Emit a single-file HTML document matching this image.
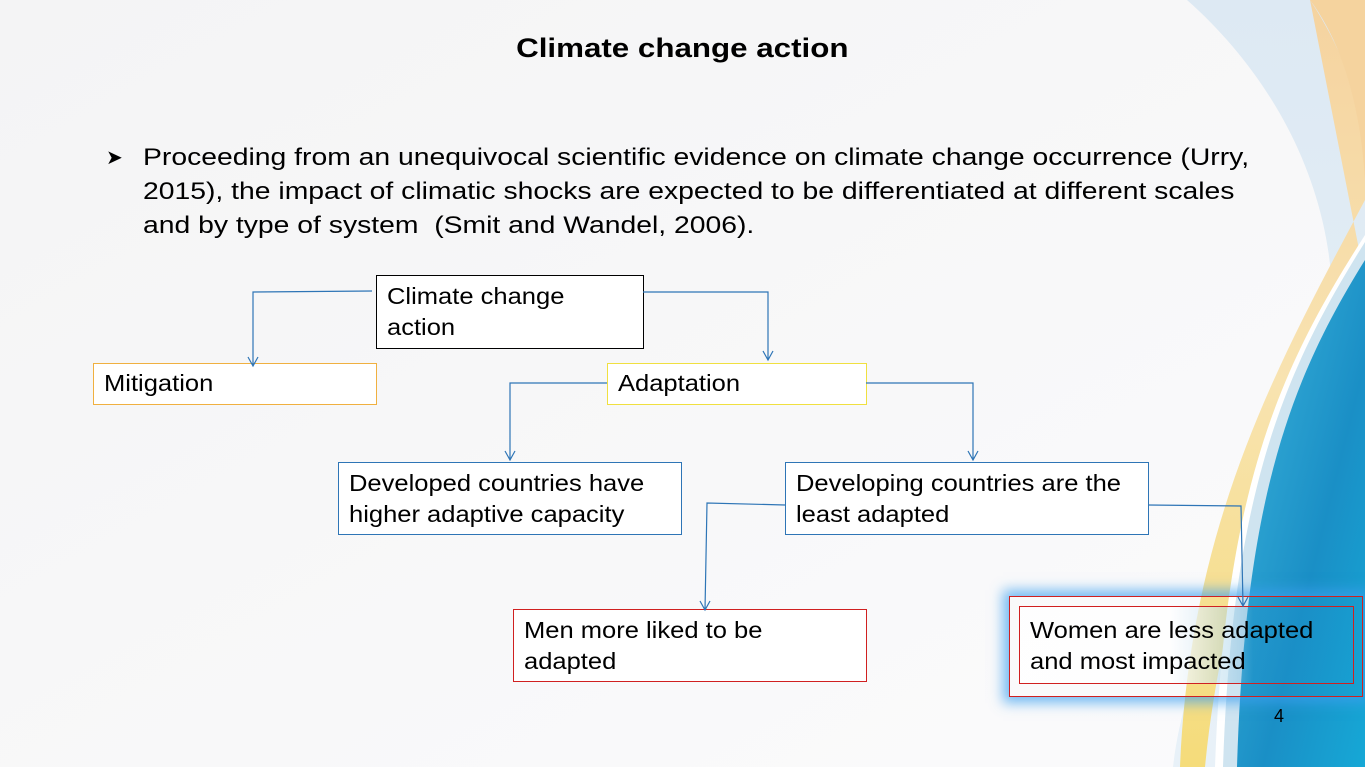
<!DOCTYPE html>
<html><head><meta charset="utf-8"><style>
body{margin:0;width:1365px;height:767px;overflow:hidden;background:#f7f7f8;font-family:"Liberation Sans",sans-serif;}
.abs{position:absolute;}
.box{position:absolute;box-sizing:border-box;background:#fff;font-size:23px;line-height:31px;padding:5px 10px;color:#000;white-space:nowrap;}
.box span{display:inline-block;transform:scaleX(1.11);transform-origin:0 0;}
</style></head><body>
<svg class="abs" style="left:0;top:0" width="1365" height="767">
<defs>
<linearGradient id="bg" x1="0" y1="0" x2="1" y2="1"><stop offset="0" stop-color="#f4f4f5"/><stop offset="1" stop-color="#fbfbfc"/></linearGradient>
<linearGradient id="lb" x1="0" y1="0" x2="0" y2="1"><stop offset="0" stop-color="#dde9f3"/><stop offset="1" stop-color="#e8f1f8"/></linearGradient>
<linearGradient id="or" x1="0" y1="0" x2="0" y2="1"><stop offset="0" stop-color="#f5d3a0"/><stop offset="0.5" stop-color="#f8e3b0"/><stop offset="1" stop-color="#f5dc7a"/></linearGradient>
<linearGradient id="bl" x1="0" y1="0" x2="1" y2="1"><stop offset="0" stop-color="#3fb6dc"/><stop offset="0.6" stop-color="#1a8fc6"/><stop offset="1" stop-color="#16a8d6"/></linearGradient>
</defs>
<rect width="1365" height="767" fill="url(#bg)"/>
<path d="M1187,0 C1300,100 1360,250 1320,400 C1280,540 1190,620 1173,767 L1365,767 L1365,0 Z" fill="url(#lb)"/>
<path d="M1310,0 C1350,60 1365,120 1365,160 L1365,200 C1280,360 1190,520 1180,767 L1205,767 C1225,560 1300,400 1365,280 Z" fill="url(#or)"/>
<path d="M1310,0 L1365,0 L1365,180 C1360,100 1340,40 1310,0 Z" fill="#f5d39e"/>
<path d="M1365,235 C1285,360 1225,480 1215,767 L1365,767 Z" fill="#ffffff"/>
<path d="M1365,242 C1288,365 1232,485 1223,767 L1365,767 Z" fill="#cfe4f0"/>
<path d="M1365,260 C1290,380 1245,500 1237,767 L1365,767 Z" fill="url(#bl)"/>
</svg>
<div class="abs" style="left:0;width:1365px;top:33px;text-align:center;font-weight:bold;font-size:27px;"><span style="display:inline-block;transform:scaleX(1.16);">Climate change action</span></div>
<div class="abs" style="left:143px;top:141px;font-size:24px;line-height:34px;white-space:nowrap;transform:scaleX(1.18);transform-origin:0 0;">Proceeding from an unequivocal scientific evidence on climate change occurrence (Urry,<br>2015), the impact of climatic shocks are expected to be differentiated at different scales<br>and by type of system&nbsp; (Smit and Wandel, 2006).</div>
<div class="abs" style="left:106px;top:145px;font-size:20px;">&#10148;</div>
<div class="box" style="left:376px;top:275px;width:268px;height:74px;border:1px solid #000;padding-top:5px"><span>Climate change<br>action</span></div>
<div class="box" style="left:93px;top:363px;width:284px;height:42px;border:1px solid #f0b040;padding-top:4px"><span>Mitigation</span></div>
<div class="box" style="left:607px;top:363px;width:260px;height:42px;border:1px solid #f0e040;padding-top:4px"><span>Adaptation</span></div>
<div class="box" style="left:338px;top:462px;width:344px;height:73px;border:1px solid #2e75b6;"><span>Developed countries have<br>higher adaptive capacity</span></div>
<div class="box" style="left:785px;top:462px;width:364px;height:73px;border:1px solid #2e75b6;"><span>Developing countries are the<br>least adapted</span></div>
<div class="box" style="left:513px;top:609px;width:354px;height:73px;border:1px solid #d02020;"><span>Men more liked to be<br>adapted</span></div>
<div class="abs" style="left:1009px;top:596px;width:354px;height:101px;box-sizing:border-box;border:1px solid #d02020;box-shadow:0 0 12px 6px rgba(60,160,240,0.7);"></div>
<div class="box" style="left:1019px;top:606px;width:335px;height:78px;border:1px solid #d02020;background:linear-gradient(90deg,rgba(255,255,255,0.92) 0%,rgba(255,255,255,0.85) 45%,rgba(30,140,200,0.25) 70%,rgba(20,150,210,0.1) 100%);padding-top:8px"><span>Women are less adapted<br>and most impacted</span></div>
<div class="abs" style="left:1274px;top:706px;font-size:18px;">4</div>
<svg class="abs" style="left:0;top:0" width="1365" height="767" fill="none" stroke="#2e75b6" stroke-width="1.2">
<path d="M372,291 L253,292 L253,365 M248,357 L253,366 L258,357"/>
<path d="M643,292 L768,292 L768,360 M763,351 L768,360 L773,351"/>
<path d="M607,383 L510,383 L510,460 M505,451 L510,460 L515,451"/>
<path d="M866,383 L973,383 L973,460 M968,451 L973,460 L978,451"/>
<path d="M785,505 L707,503 L705,610 M700,601 L705,610 L710,601"/>
<path d="M1148,505 L1241,506 L1243,606 M1238,597 L1243,606 L1248,597"/>
</svg>
</body></html>
